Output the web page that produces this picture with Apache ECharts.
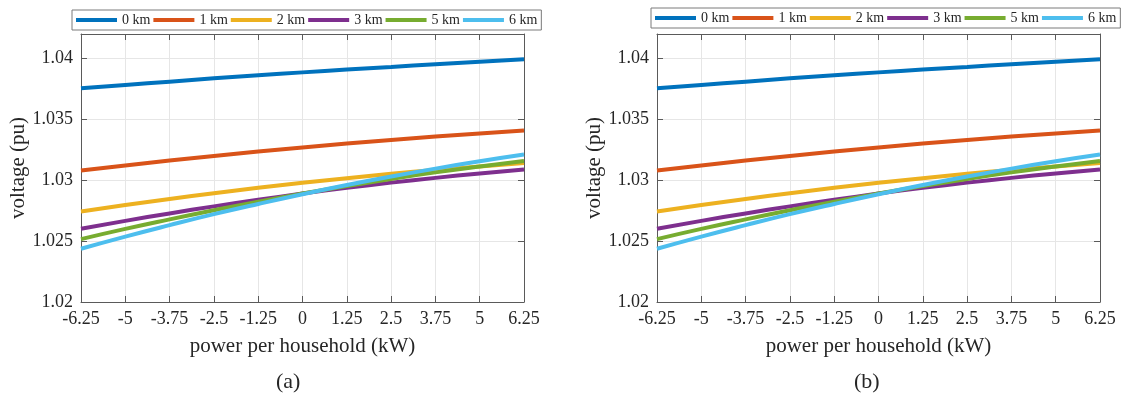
<!DOCTYPE html>
<html>
<head>
<meta charset="utf-8">
<script src="https://cdn.jsdelivr.net/npm/echarts@6/dist/echarts.min.js"></script>
<style>
html,body{margin:0;padding:0;background:#fff;}
#chart{width:1121px;height:393px;}
</style>
</head>
<body>
<div id="chart"></div>
<script>
// ---- data ----
const xValues = [-6.25, -5, -3.75, -2.5, -1.25, 0, 1.25, 2.5, 3.75, 5, 6.25];
const seriesNames = ['0 km', '1 km', '2 km', '3 km', '5 km', '6 km'];
const v0km = [1.03754, 1.03782, 1.03809, 1.03836, 1.03861, 1.03885, 1.03908, 1.03929, 1.03952, 1.03972, 1.03992];
const v1km = [1.03079, 1.03121, 1.03161, 1.03199, 1.03235, 1.03269, 1.03301, 1.03330, 1.03358, 1.03384, 1.03407];
const v2km = [1.02743, 1.02796, 1.02846, 1.02893, 1.02937, 1.02978, 1.03016, 1.03052, 1.03084, 1.03113, 1.03140];
const v3km = [1.02601, 1.02666, 1.02727, 1.02785, 1.02839, 1.02890, 1.02937, 1.02980, 1.03019, 1.03055, 1.03087];
const v5km = [1.02516, 1.02600, 1.02678, 1.02753, 1.02824, 1.02890, 1.02952, 1.03010, 1.03064, 1.03113, 1.03158];
const v6km = [1.02437, 1.02537, 1.02631, 1.02721, 1.02805, 1.02885, 1.02960, 1.03030, 1.03095, 1.03155, 1.03210];
const panelLabels = ['(a)', '(b)'];
const xTitle = 'power per household (kW)';
const yTitle = 'voltage (pu)';

const allValues = [v0km, v1km, v2km, v3km, v5km, v6km];
const colors = ['#0072BD', '#D95319', '#EDB120', '#7E2F8E', '#77AC30', '#4DBEEE'];
const FONT = 'Liberation Serif';
const axisColor = '#5a5a5a';
const textColor = '#262626';

const grids = [
  {left: 81, right: 597, top: 34, bottom: 91},
  {left: 657, right: 21, top: 34, bottom: 91}
];

const xAxes = [], yAxes = [], series = [], legends = [];
grids.forEach((g, gi) => {
  xAxes.push({
    type: 'value', gridIndex: gi, min: -6.25, max: 6.25, interval: 1.25, position: 'bottom',
    axisLine: {show: true, onZero: false, lineStyle: {color: axisColor, width: 1}},
    axisTick: {show: true, inside: true, length: 6, lineStyle: {color: axisColor}},
    axisLabel: {fontFamily: FONT, fontSize: 18, color: textColor, margin: 8},
    splitLine: {show: true, lineStyle: {color: '#e6e6e6', width: 1}},
    name: xTitle, nameLocation: 'middle', nameGap: 34,
    nameTextStyle: {fontFamily: FONT, fontSize: 21, color: textColor}
  });
  xAxes.push({
    type: 'value', gridIndex: gi, min: -6.25, max: 6.25, interval: 1.25, position: 'top',
    axisLine: {show: true, onZero: false, lineStyle: {color: axisColor, width: 1}},
    axisTick: {show: true, inside: true, length: 6, lineStyle: {color: axisColor}},
    axisLabel: {show: false}, splitLine: {show: false}
  });
  yAxes.push({
    type: 'value', gridIndex: gi, min: 1.02, max: 1.042, interval: 0.005, position: 'left',
    axisLine: {show: true, onZero: false, lineStyle: {color: axisColor, width: 1}},
    axisTick: {show: true, inside: true, length: 6, lineStyle: {color: axisColor}},
    axisLabel: {fontFamily: FONT, fontSize: 18, color: textColor, margin: 8, showMaxLabel: false,
      formatter: v => String(+v.toFixed(3))},
    splitLine: {show: true, lineStyle: {color: '#e6e6e6', width: 1}},
    name: yTitle, nameLocation: 'middle', nameGap: 52, nameRotate: 90,
    nameTextStyle: {fontFamily: FONT, fontSize: 21, color: textColor}
  });
  yAxes.push({
    type: 'value', gridIndex: gi, min: 1.02, max: 1.042, interval: 0.005, position: 'right',
    axisLine: {show: true, onZero: false, lineStyle: {color: axisColor, width: 1}},
    axisTick: {show: true, inside: true, length: 6, lineStyle: {color: axisColor}},
    axisLabel: {show: false}, splitLine: {show: false}
  });
  seriesNames.forEach((n, si) => {
    series.push({
      type: 'line', name: n, xAxisIndex: gi * 2, yAxisIndex: gi * 2,
      data: xValues.map((x, k) => [x, allValues[si][k]]),
      smooth: true, symbol: 'none', showSymbol: false,
      lineStyle: {color: colors[si], width: 4},
      itemStyle: {color: colors[si]},
      z: 3 + si
    });
  });
});

[{left: 72, top: 10}, {left: 651, top: 8}].forEach(p => {
  legends.push({
    left: p.left, top: p.top, width: 600, orient: 'horizontal', padding: [3, 4], itemGap: 3,
    itemWidth: 41, itemHeight: 4, icon: 'rect', borderColor: '#7a7a7a', borderWidth: 1,
    backgroundColor: '#fff', data: seriesNames,
    textStyle: {fontFamily: FONT, fontSize: 14, color: textColor}
  });
});

const chart = echarts.init(document.getElementById('chart'), null, {renderer: 'canvas'});
chart.setOption({
  animation: false,
  backgroundColor: '#fff',
  grid: grids,
  xAxis: xAxes,
  yAxis: yAxes,
  legend: legends,
  series: series,
  graphic: [
    {type: 'text', left: 276, top: 371, style: {text: panelLabels[0], font: '22px "Liberation Serif"', fill: textColor}},
    {type: 'text', left: 854, top: 371, style: {text: panelLabels[1], font: '22px "Liberation Serif"', fill: textColor}}
  ]
});
</script>
</body>
</html>
